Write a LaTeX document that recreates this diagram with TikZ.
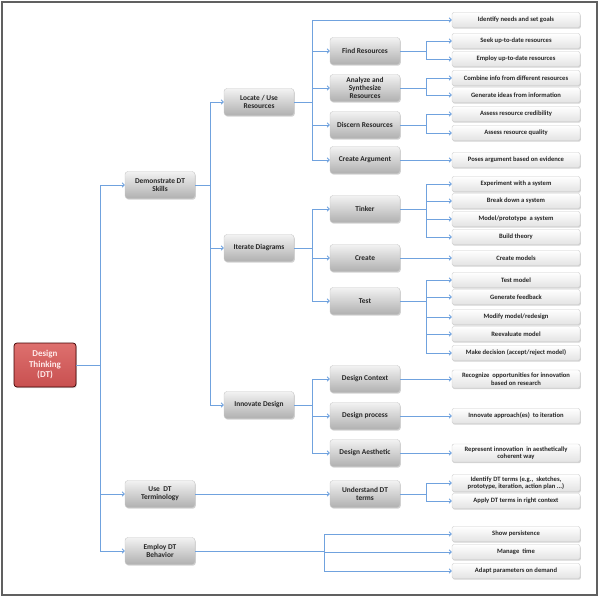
\documentclass[tikz,border=0pt]{standalone}
\usepackage{fontspec}
\setmainfont{Carlito}
\usetikzlibrary{arrows.meta,shadows}
\definecolor{linkblue}{RGB}{112,162,222}
\definecolor{dtred}{RGB}{200,80,80}
\definecolor{dtredlight}{RGB}{222,112,110}

\begin{document}
\begin{tikzpicture}[x=1pt, y=-1pt,
    link/.style={draw=linkblue, line width=0.8pt, -{Straight Barb[length=2.2pt,width=4.5pt]}},
    box/.style={rounded corners=3pt, align=center, text=black!85, inner sep=1pt,
        drop shadow={opacity=0.35, shadow xshift=0.8pt, shadow yshift=-1.2pt}},
    midbox/.style={box, top color=gray!10, bottom color=gray!62, draw=gray!45,
        minimum width=70pt, minimum height=27pt, font=\fontsize{7.4}{8.2}\selectfont\bfseries},
    leafbox/.style={box, rounded corners=2pt, top color=white, bottom color=gray!22, draw=gray!40,
        minimum width=128pt, minimum height=15pt, font=\fontsize{6.6}{7.4}\selectfont\bfseries},
    dtroot/.style={box, top color=dtredlight, bottom color=dtred, draw=black!75!red, line width=0.7pt,
        minimum width=62pt, minimum height=44pt, text=white!92!red, font=\fontsize{9}{10.5}\selectfont\bfseries}]
    \useasboundingbox (0,0) rectangle (600,597);
    \draw[gray!75!black, line width=2pt] (2,2) rectangle (597,595);

    \node[dtroot] (dt) at (45,365) {Design\\Thinking\\(DT)};

    \node[midbox] (demo) at (160,185) {Demonstrate DT\\Skills};
    \node[midbox] (use) at (160,494) {Use\ \ DT\\Terminology};
    \node[midbox] (emp) at (160,551) {Employ DT\\Behavior};

    \node[midbox] (loc) at (259,102) {Locate / Use\\Resources};
    \node[midbox] (iter) at (259,248) {Iterate Diagrams};
    \node[midbox] (inno) at (259,405) {Innovate Design};

    \node[midbox] (find) at (365,51) {Find Resources};
    \node[midbox] (ana) at (365,88) {Analyze and\\Synthesize\\Resources};
    \node[midbox] (disc) at (365,125) {Discern Resources};
    \node[midbox] (arg) at (365,160) {Create Argument};
    \node[midbox] (tink) at (365,209) {Tinker};
    \node[midbox] (crt) at (365,258) {Create};
    \node[midbox] (tst) at (365,301) {Test};
    \node[midbox] (dctx) at (365,379) {Design Context};
    \node[midbox] (dproc) at (365,416) {Design process};
    \node[midbox] (daes) at (365,453) {Design Aesthetic};
    \node[midbox] (und) at (365,494) {Understand DT\\terms};

    \node[leafbox] (goal) at (516,20) {Identify needs and set goals};
    \node[leafbox] (seek) at (516,41) {Seek up-to-date resources};
    \node[leafbox] (empl) at (516,59) {Employ up-to-date resources};
    \node[leafbox] (comb) at (516,78) {Combine info from different resources};
    \node[leafbox] (gen) at (516,95) {Generate ideas from information};
    \node[leafbox] (cred) at (516,114) {Assess resource credibility};
    \node[leafbox] (qual) at (516,133) {Assess resource quality};
    \node[leafbox] (pose) at (516,160) {Poses argument based on evidence};
    \node[leafbox] (exp) at (516,184) {Experiment with a system};
    \node[leafbox] (brk) at (516,201) {Break down a system};
    \node[leafbox] (mod) at (516,219) {Model/prototype\ \ a system};
    \node[leafbox] (bld) at (516,237) {Build theory};
    \node[leafbox] (cmod) at (516,258) {Create models};
    \node[leafbox] (tm) at (516,280) {Test model};
    \node[leafbox] (fb) at (516,297) {Generate feedback};
    \node[leafbox] (modr) at (516,317) {Modify model/redesign};
    \node[leafbox] (reev) at (516,334) {Reevaluate model};
    \node[leafbox] (dec) at (516,353) {Make decision (accept/reject model)};
    \node[leafbox, minimum height=18pt] (rec) at (516,379) {Recognize\ \ opportunities for innovation\\based on research};
    \node[leafbox] (innap) at (516,416) {Innovate approach(es)\ \ to iteration};
    \node[leafbox, minimum height=18pt] (rep) at (516,453) {Represent innovation\ \ in aesthetically\\coherent way};
    \node[leafbox, minimum height=17pt] (iddt) at (516,483) {Identify DT terms (e.g.,\ \ sketches,\\prototype, iteration, action plan ...)};
    \node[leafbox] (app) at (516,501) {Apply DT terms in right context};
    \node[leafbox] (pers) at (516,534) {Show persistence};
    \node[leafbox] (mng) at (516,552) {Manage\ \ time};
    \node[leafbox] (adp) at (516,571) {Adapt parameters on demand};

    \draw[link] (dt.east) -- ++(24,0) |- (demo.west);
    \draw[link] (dt.east) -- ++(24,0) |- (use.west);
    \draw[link] (dt.east) -- ++(24,0) |- (emp.west);

    \draw[link] (demo.east) -- ++(15,0) |- (loc.west);
    \draw[link] (demo.east) -- ++(15,0) |- (iter.west);
    \draw[link] (demo.east) -- ++(15,0) |- (inno.west);

    \draw[link] (loc.east) -- ++(18.5,0) |- (goal.west);
    \draw[link] (loc.east) -- ++(18.5,0) |- (find.west);
    \draw[link] (loc.east) -- ++(18.5,0) |- (ana.west);
    \draw[link] (loc.east) -- ++(18.5,0) |- (disc.west);
    \draw[link] (loc.east) -- ++(18.5,0) |- (arg.west);
    \draw[link] (iter.east) -- ++(18.5,0) |- (tink.west);
    \draw[link] (iter.east) -- ++(18.5,0) |- (crt.west);
    \draw[link] (iter.east) -- ++(18.5,0) |- (tst.west);
    \draw[link] (inno.east) -- ++(18.5,0) |- (dctx.west);
    \draw[link] (inno.east) -- ++(18.5,0) |- (dproc.west);
    \draw[link] (inno.east) -- ++(18.5,0) |- (daes.west);
    \draw[link] (use.east) -- (und.west);

    \draw[link] (find.east) -- ++(26,0) |- (seek.west);
    \draw[link] (find.east) -- ++(26,0) |- (empl.west);
    \draw[link] (ana.east) -- ++(26,0) |- (comb.west);
    \draw[link] (ana.east) -- ++(26,0) |- (gen.west);
    \draw[link] (disc.east) -- ++(26,0) |- (cred.west);
    \draw[link] (disc.east) -- ++(26,0) |- (qual.west);
    \draw[link] (arg.east) -- (pose.west);
    \draw[link] (tink.east) -- ++(26,0) |- (exp.west);
    \draw[link] (tink.east) -- ++(26,0) |- (brk.west);
    \draw[link] (tink.east) -- ++(26,0) |- (mod.west);
    \draw[link] (tink.east) -- ++(26,0) |- (bld.west);
    \draw[link] (crt.east) -- (cmod.west);
    \draw[link] (tst.east) -- ++(26,0) |- (tm.west);
    \draw[link] (tst.east) -- ++(26,0) |- (fb.west);
    \draw[link] (tst.east) -- ++(26,0) |- (modr.west);
    \draw[link] (tst.east) -- ++(26,0) |- (reev.west);
    \draw[link] (tst.east) -- ++(26,0) |- (dec.west);
    \draw[link] (dctx.east) -- (rec.west);
    \draw[link] (dproc.east) -- (innap.west);
    \draw[link] (daes.east) -- (rep.west);
    \draw[link] (und.east) -- ++(26,0) |- (iddt.west);
    \draw[link] (und.east) -- ++(26,0) |- (app.west);

    \draw[link] (emp.east) -- ++(129,0) |- (pers.west);
    \draw[link] (emp.east) -- ++(129,0) |- (mng.west);
    \draw[link] (emp.east) -- ++(129,0) |- (adp.west);
\end{tikzpicture}
\end{document}
